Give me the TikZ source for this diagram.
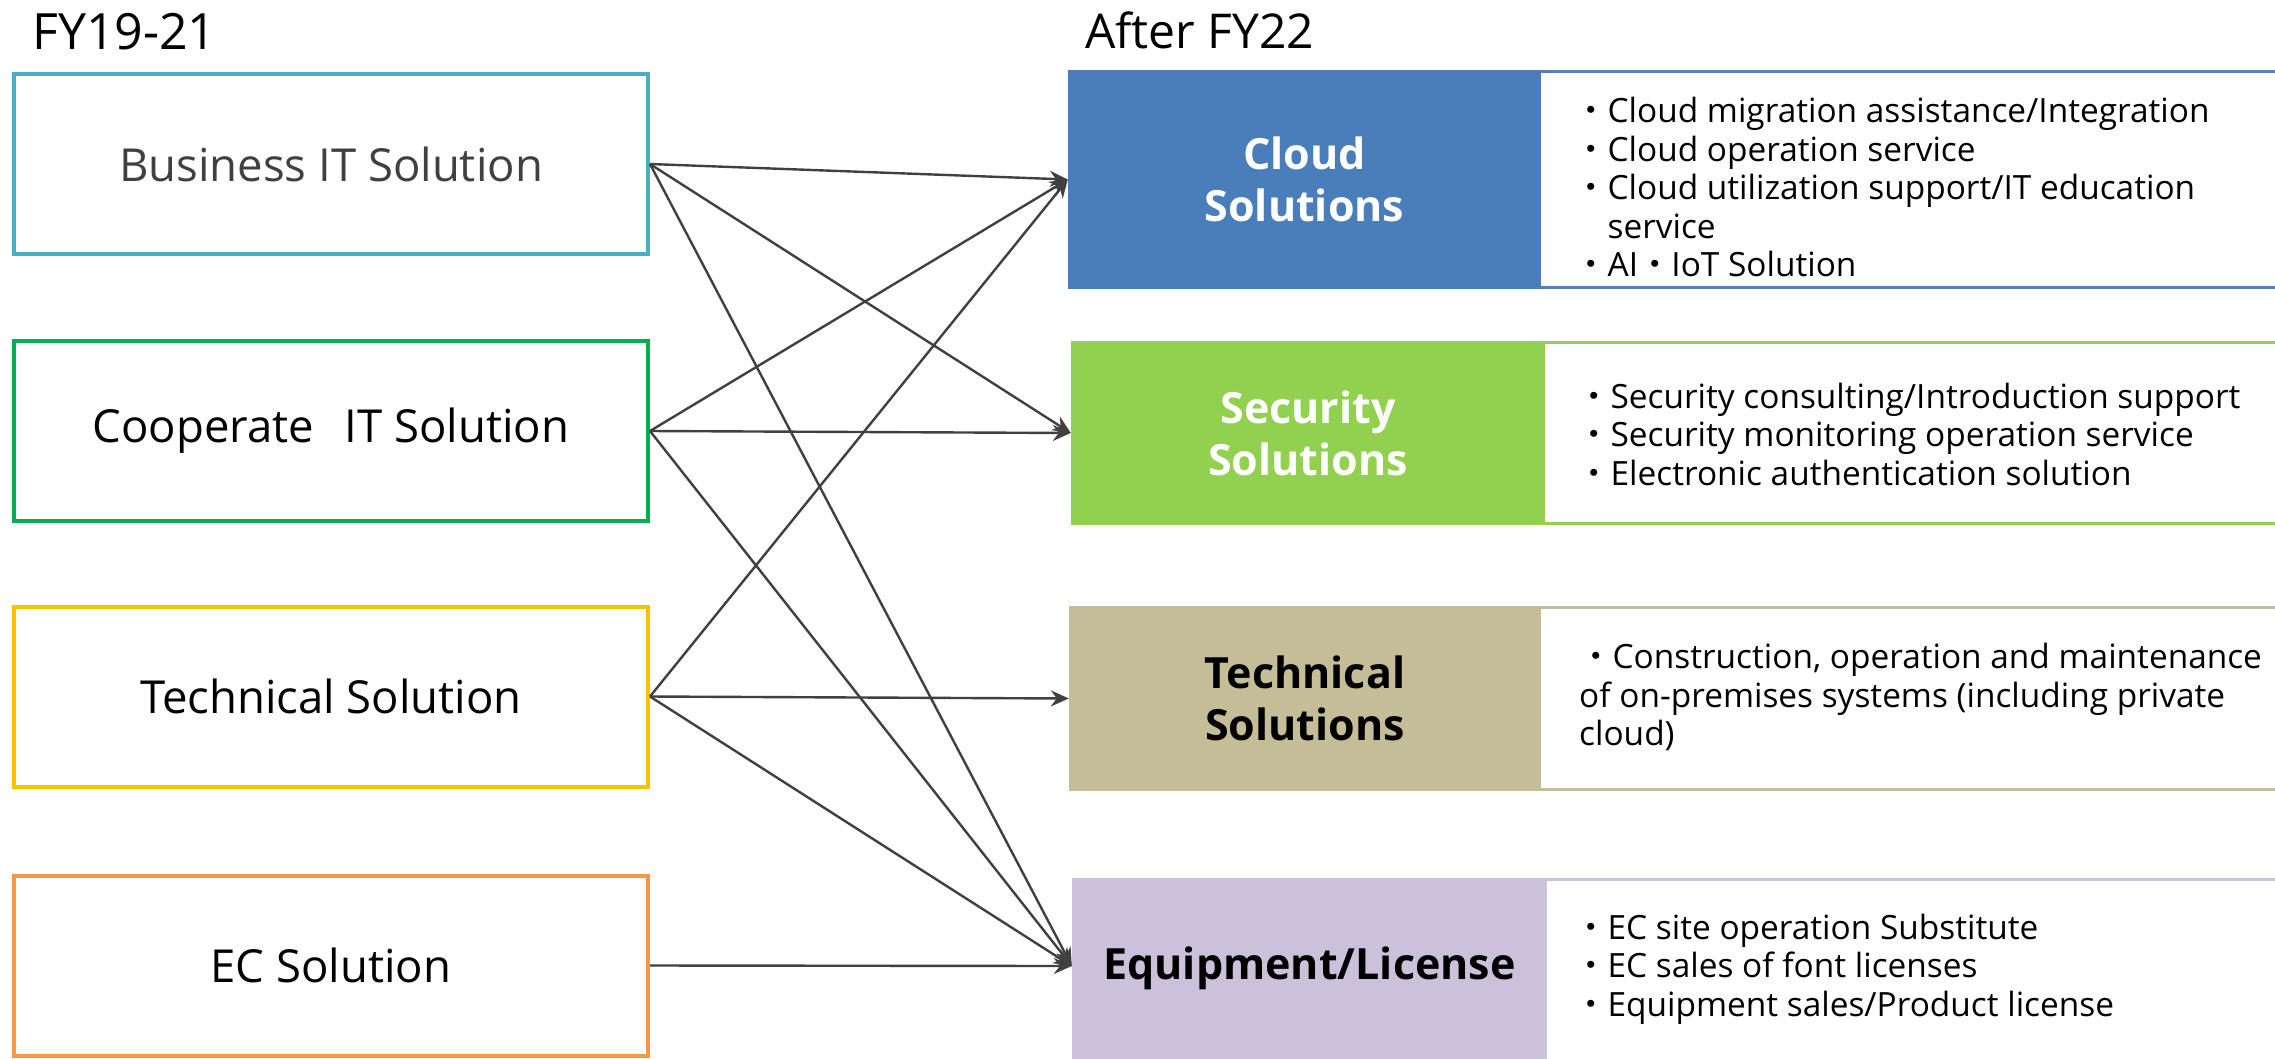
\documentclass[tikz,border=0pt]{standalone}
\usepackage{fontspec}
\setmainfont{Open Sans}
\newfontfamily\cjkfont{Noto Sans CJK JP}
\usetikzlibrary{arrows.meta}

\definecolor{srcBiz}{HTML}{4BACC6}
\definecolor{srcCorp}{HTML}{00B050}
\definecolor{srcTech}{HTML}{FFC000}
\definecolor{srcEC}{HTML}{F79646}
\definecolor{cloudC}{HTML}{4A7EBB}
\definecolor{cloudLine}{HTML}{4F81BD}
\definecolor{secC}{HTML}{92D050}
\definecolor{techC}{HTML}{C4BD97}
\definecolor{equipC}{HTML}{CCC1DA}
\definecolor{linkC}{HTML}{404040}
\definecolor{grayText}{HTML}{404040}

% full-width middle dot used as list bullet
\newcommand\dotmark{{\cjkfont ・}}

\tikzset{
  srcbox/.style={draw, line width=4pt, fill=white, minimum width=634pt,
    minimum height=180pt, inner sep=0pt, font=\fontsize{45.5}{54}\selectfont},
  catbox/.style={inner sep=0pt, align=center,
    font=\bfseries\fontsize{43}{52}\selectfont},
  panel/.style={line width=3pt, fill=white},
  listtext/.style={inner sep=0pt, align=left, anchor=west,
    font=\fontsize{33.4}{38.5}\selectfont},
  heading/.style={inner sep=0pt, anchor=base west,
    font=\fontsize{48}{56}\selectfont},
  link/.style={draw=linkC, line width=2.4pt,
    -{Stealth[length=18pt,width=16pt,inset=6pt]}}
}

\begin{document}
\begin{tikzpicture}[x=1pt,y=-1pt]
\useasboundingbox (0,0) rectangle (2275,1058);
\fill[white] (0,0) rectangle (2275,1058);
\clip (0,0) rectangle (2275,1058);

% column headings
\node[heading, font=\fontsize{50}{58}\selectfont] (hdOld) at (32,49) {FY19-21};
\node[heading] (hdNew) at (1085,48) {After FY22};

% former segments
\node[srcbox, draw=srcBiz, text=grayText] (biz) at (331,164) {Business IT Solution};
\node[srcbox, draw=srcCorp] (corp) at (331,431) {Cooperate\hspace{0.15em}\ \ IT Solution};
\node[srcbox, draw=srcTech] (tech) at (331,696.5) {Technical Solution};
\node[srcbox, draw=srcEC] (ec) at (331,965.5) {EC Solution};

% description panels behind the new segments
\draw[panel, draw=cloudLine] (1530,71.5) rectangle (2290,287.5);
\draw[panel, draw=secC] (1530,342.5) rectangle (2290,523.5);
\draw[panel, draw=techC] (1530,607.5) rectangle (2290,789.5);
\draw[panel, draw=equipC] (1530,879.5) rectangle (2290,1090);

% new segments
\node[catbox, fill=cloudC, text=white, minimum width=473pt, minimum height=219pt]
  (cloud) at (1304.5,179.5) {Cloud\\Solutions};
\node[catbox, fill=secC, text=white, minimum width=474pt, minimum height=184pt]
  (sec) at (1308,433) {Security\\Solutions};
\node[catbox, fill=techC, text=black, minimum width=472pt, minimum height=185pt]
  (techsol) at (1305,698.5) {Technical\\Solutions};
\node[catbox, fill=equipC, text=black, minimum width=475pt, minimum height=192pt]
  (equip) at (1309.5,974) {};
\node[catbox, text=black] (equipTitle) at (1309.5,968) {Equipment/License};

% service lists
\node[listtext] (cloudList) at (1574,187) {\dotmark Cloud migration assistance/Integration\\
  \dotmark Cloud operation service\\
  \dotmark Cloud utilization support/IT education\\
  \phantom{\dotmark}service\\
  \dotmark AI\dotmark IoT Solution};
\node[listtext] (secList) at (1577,434) {\dotmark Security consulting/Introduction support\\
  \dotmark Security monitoring operation service\\
  \dotmark Electronic authentication solution};
\node[listtext] (techList) at (1579,697) {\dotmark Construction, operation and maintenance\\
  of on-premises systems (including private\\
  cloud)};
\node[listtext] (equipList) at (1574,969) {\dotmark EC site operation Substitute\\
  \dotmark EC sales of font licenses\\
  \dotmark Equipment sales/Product license};

% transitions
\coordinate (equipIn) at ([yshift=8pt]equip.west);
\draw[link] (biz.east) -- (cloud.west);
\draw[link] (biz.east) -- (sec.west);
\draw[link] (biz.east) -- (equipIn);
\draw[link] (corp.east) -- (cloud.west);
\draw[link] (corp.east) -- (sec.west);
\draw[link] (corp.east) -- (equipIn);
\draw[link] (tech.east) -- (cloud.west);
\draw[link] (tech.east) -- (techsol.west);
\draw[link] (tech.east) -- (equipIn);
\draw[link] (ec.east) -- (equipIn);
\end{tikzpicture}
\end{document}
